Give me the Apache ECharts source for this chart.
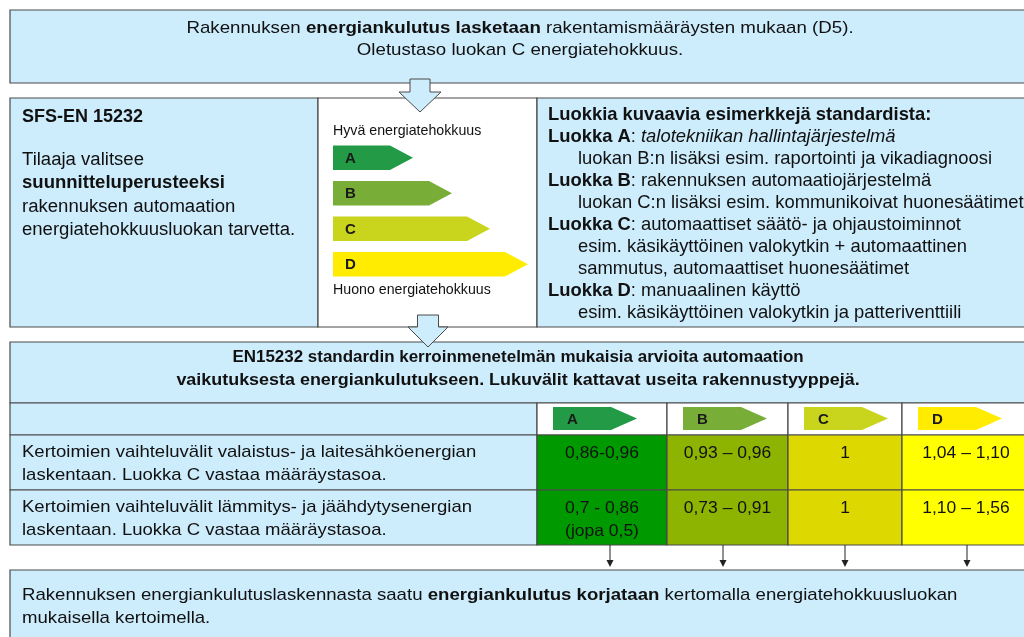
<!DOCTYPE html>
<html><head><meta charset="utf-8">
<script src="https://cdn.jsdelivr.net/npm/echarts@6/dist/echarts.min.js"></script>
<style>html,body{margin:0;padding:0;background:#fff}#c{width:1024px;height:637px}</style>
</head><body><div id="c"></div>
<script>
// ---- data ----
const classes = ['A', 'B', 'C', 'D'];
const classArrowLength = [80, 119, 157, 195];           // relative length of class arrows (A best ... D worst)
const lightingFactors = ['0,86-0,96', '0,93 – 0,96', '1', '1,04 – 1,10'];
const heatingFactors = ['0,7 - 0,86\n(jopa 0,5)', '0,73 – 0,91', '1', '1,10 – 1,56'];
const rowLabels = [
  'Kertoimien vaihteluvälit valaistus- ja laitesähköenergian\nlaskentaan. Luokka C vastaa määräystasoa.',
  'Kertoimien vaihteluvälit lämmitys- ja jäähdytysenergian\nlaskentaan. Luokka C vastaa määräystasoa.'
];
const topText = 'Rakennuksen {b|energiankulutus lasketaan} rakentamismääräysten mukaan (D5).\nOletustaso luokan C energiatehokkuus.';
const leftTitle = 'SFS-EN 15232';
const leftText = 'Tilaaja valitsee\n{b|suunnitteluperusteeksi}\nrakennuksen automaation\nenergiatehokkuusluokan tarvetta.';
const rightLines = [
  ['{b|Luokkia kuvaavia esimerkkejä standardista:}', 0],
  ['{b|Luokka A}: {i|talotekniikan hallintajärjestelmä}', 0],
  ['luokan B:n lisäksi esim. raportointi ja vikadiagnoosi', 1],
  ['{b|Luokka B}: rakennuksen automaatiojärjestelmä', 0],
  ['luokan C:n lisäksi esim. kommunikoivat huonesäätimet', 1],
  ['{b|Luokka C}: automaattiset säätö- ja ohjaustoiminnot', 0],
  ['esim. käsikäyttöinen valokytkin + automaattinen', 1],
  ['sammutus, automaattiset huonesäätimet', 1],
  ['{b|Luokka D}: manuaalinen käyttö', 0],
  ['esim. käsikäyttöinen valokytkin ja patteriventtiili', 1]
];
const goodLabel = 'Hyvä energiatehokkuus';
const badLabel = 'Huono energiatehokkuus';
const tableTitle = ['EN15232 standardin kerroinmenetelmän mukaisia arvioita automaation',
  'vaikutuksesta energiankulutukseen. Lukuvälit kattavat useita rakennustyyppejä.'];
const bottomText = 'Rakennuksen energiankulutuslaskennasta saatu {b|energiankulutus korjataan} kertomalla energiatehokkuusluokan\nmukaisella kertoimella.';

// ---- styles ----
const FONT = '"Liberation Sans", Arial, sans-serif';
const BLUE = '#cdecfc';
const LINE = '#4a4a4a';
const tagColors = ['#239a46', '#78ad37', '#c9d41c', '#ffec00'];
const cellColors = ['#009a00', '#8cb400', '#dcd800', '#ffff00'];
const colEdges = [537, 667, 788, 902, 1030];

const g = [];
function rect(x, y, w, h, fill, lw) {
  g.push({type: 'rect', shape: {x, y, width: w, height: h}, style: {fill, stroke: LINE, lineWidth: lw || 1.2}});
}
function text(x, y, t, opt) {
  opt = opt || {};
  const s = opt.size || 16, lh = opt.lh || 23;
  g.push({type: 'text', x, y, z: 10, scaleX: opt.sx || 1, originX: 0, style: Object.assign({
    text: t, fontFamily: FONT, fontSize: s, fill: '#111',
    align: opt.align || 'left', verticalAlign: 'middle', lineHeight: lh,
    rich: {b: {fontWeight: 'bold', fontSize: s, fontFamily: FONT, lineHeight: lh},
           i: {fontStyle: 'italic', fontSize: s, fontFamily: FONT, lineHeight: lh}}
  }, opt.style || {})});
}
function bigArrow(cx, stemTop, headY, tipY, sw, hw) {
  g.push({type: 'polygon', z: 5, shape: {points: [
    [cx - sw / 2, stemTop], [cx + sw / 2, stemTop], [cx + sw / 2, headY], [cx + hw / 2, headY],
    [cx, tipY], [cx - hw / 2, headY], [cx - sw / 2, headY]]},
    style: {fill: BLUE, stroke: LINE, lineWidth: 1}});
}

// top box
rect(10, 10, 1030, 73, BLUE);
text(520, 39, topText, {align: 'center', size: 17, lh: 22, sx: 1.1, style: {align: 'center'}});

// second row
rect(10, 98, 308, 229, BLUE);
rect(318, 98, 219, 229, '#ffffff');
rect(537, 98, 510, 229, BLUE);
text(22, 117, '{b|' + leftTitle + '}', {size: 18});
text(22, 195, leftText, {size: 18, lh: 23.3, sx: 1.03});
text(333, 131, goodLabel, {size: 14.2});
text(333, 290, badLabel, {size: 14.2});
rightLines.forEach((l, i) => text(l[1] ? 578 : 548, 115 + i * 22, l[0], {size: 18.4}));

// table
rect(10, 342, 1030, 61, BLUE);
text(518, 358, tableTitle[0], {align: 'center', size: 16, sx: 1.06, style: {fontWeight: 'bold'}});
text(518, 381, tableTitle[1], {align: 'center', size: 16, sx: 1.12, style: {fontWeight: 'bold'}});
rect(10, 403, 527, 32, BLUE);
rect(10, 435, 527, 55, BLUE);
rect(10, 490, 527, 55, BLUE);
rowLabels.forEach((t, r) => text(22, 464 + r * 55, t, {size: 17, lh: 23, sx: 1.09}));
classes.forEach((c, i) => {
  const x0 = colEdges[i], w = colEdges[i + 1] - x0;
  rect(x0, 403, w, 32, '#ffffff');
  rect(x0, 435, w, 55, cellColors[i]);
  rect(x0, 490, w, 55, cellColors[i]);
  // header tag
  const tx = x0 + 16, ty = 407, th = 23, tl = 84, tip = 26;
  g.push({type: 'polygon', z: 6, shape: {points: [[tx, ty], [tx + tl - tip, ty], [tx + tl, ty + th / 2], [tx + tl - tip, ty + th], [tx, ty + th]]},
    style: {fill: tagColors[i]}});
  text(tx + 14, ty + th / 2 + 1, c, {size: 15, style: {fontWeight: 'bold', fill: '#1a1a1a'}});
  text(x0 + w / 2, 453, lightingFactors[i], {align: 'center', size: 16.5, sx: 1.06});
  text(x0 + w / 2, 508 + (heatingFactors[i].includes('\n') ? 11.5 : 0), heatingFactors[i], {align: 'center', size: 16.5, sx: 1.06});
  // small arrows down
  const ax = [610, 723, 845, 967][i];
  g.push({type: 'line', z: 6, shape: {x1: ax, y1: 545, x2: ax, y2: 562}, style: {stroke: '#222', lineWidth: 1}});
  g.push({type: 'polygon', z: 6, shape: {points: [[ax - 3.5, 560], [ax + 3.5, 560], [ax, 567]]}, style: {fill: '#222'}});
});

// bottom box
rect(10, 570, 1030, 100, BLUE);
text(22, 607, bottomText, {size: 17, lh: 23, sx: 1.095});

// connector arrows
bigArrow(420, 79, 92, 112, 20, 42);
bigArrow(428, 315, 327, 347, 21, 40);

const chart = echarts.init(document.getElementById('c'), null, {renderer: 'canvas'});
chart.setOption({
  animation: false,
  graphic: {elements: g},
  grid: {left: 333, top: 140, width: 200, height: 142, containLabel: false},
  xAxis: {type: 'value', min: 0, max: 200, show: false},
  yAxis: {type: 'category', data: classes, inverse: true, show: false},
  series: [{
    type: 'custom', z: 8,
    data: classArrowLength.map((v, i) => [v, i]),
    renderItem: function (params, api) {
      const i = api.value(1);
      const p0 = api.coord([0, i]);
      const p1 = api.coord([api.value(0), i]);
      const h = api.size([0, 1])[1] * 0.69;
      const tip = 23;
      return {type: 'group', children: [
        {type: 'polygon', shape: {points: [[p0[0], p0[1] - h / 2], [p1[0] - tip, p0[1] - h / 2], [p1[0], p0[1]], [p1[0] - tip, p0[1] + h / 2], [p0[0], p0[1] + h / 2]]},
          style: {fill: tagColors[i]}},
        {type: 'text', x: p0[0] + 12, y: p0[1] + 1, style: {text: classes[i], fontFamily: FONT, fontSize: 15, fontWeight: 'bold', fill: '#1a1a1a', verticalAlign: 'middle'}}
      ]};
    }
  }]
});
</script></body></html>
